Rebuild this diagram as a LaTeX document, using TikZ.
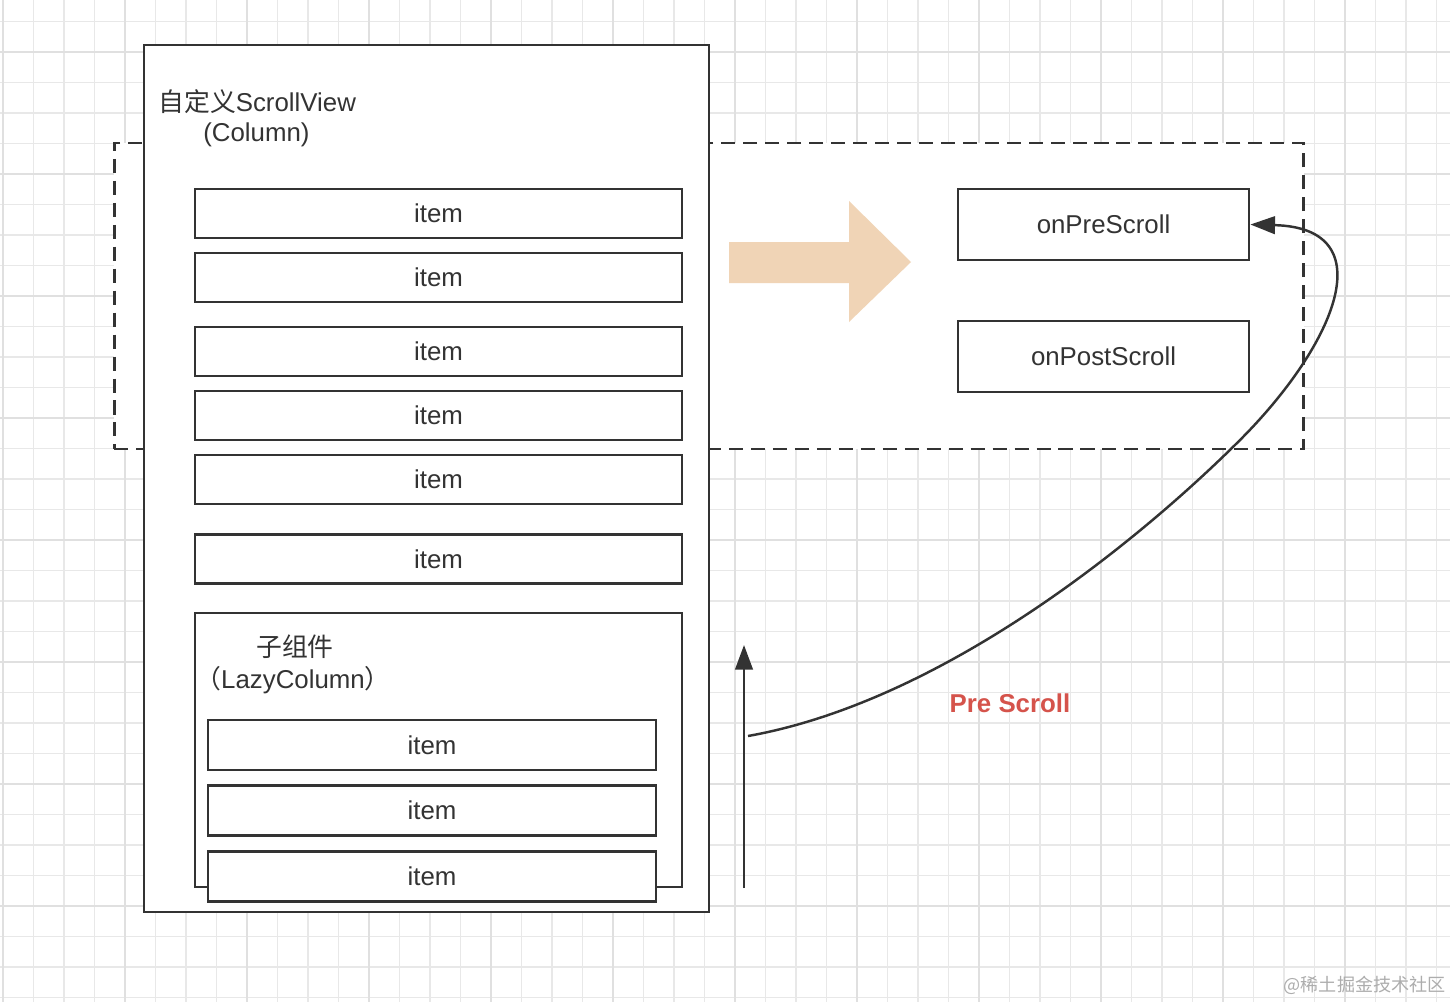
\documentclass[tikz,border=0pt]{standalone}
\usepackage{fontspec}
\setmainfont{Liberation Sans}
\newfontfamily\cjk{Noto Sans CJK SC}
\usepackage{tikz}
\usetikzlibrary{arrows.meta}
\definecolor{ink}{HTML}{333333}
\definecolor{peach}{HTML}{F0D4B6}
\definecolor{prered}{HTML}{D5534B}
\definecolor{gridminor}{HTML}{E8E8E8}
\definecolor{gridmajor}{HTML}{E0E0E0}
\tikzstyle{box} = [rectangle, draw=ink, line width=1.6pt, fill=white, inner sep=0pt, text=ink, font=\fontsize{14.7pt}{17pt}\selectfont]
\tikzstyle{item} = [box, minimum width=9.74cm, minimum height=0.98cm]
\tikzstyle{subitem} = [box, minimum width=8.96cm, minimum height=1.0cm]
\tikzstyle{callback} = [box, minimum width=5.82cm, minimum height=1.42cm]
\tikzstyle{label} = [inner sep=0pt, text=ink, font=\fontsize{14.7pt}{17pt}\selectfont]
\tikzstyle{dashbox} = [rectangle, draw=ink, line width=1.6pt, fill=white, dash pattern=on 8pt off 4.5pt]
\tikzstyle{arrow} = [draw=ink, line width=1.4pt, -{Triangle[length=14pt,width=10pt]}]

\begin{document}
\begin{tikzpicture}[x=0.02cm, y=-0.02cm]
    \useasboundingbox[fill=white] (0,0) rectangle (1450,1002);
    % grid
    \foreach \i in {0,...,47}
        \draw[gridminor, line width=0.6pt] ({3+30.5*\i},0) -- ({3+30.5*\i},1002);
    \foreach \j in {0,...,32}
        \draw[gridminor, line width=0.6pt] (0,{21.5+30.5*\j}) -- (1450,{21.5+30.5*\j});
    \foreach \i in {0,...,11}
        \draw[gridmajor, line width=0.8pt] ({3+122*\i},0) -- ({3+122*\i},1002);
    \foreach \j in {0,...,8}
        \draw[gridmajor, line width=0.8pt] (0,{52+122*\j}) -- (1450,{52+122*\j});

    \node (frame) [dashbox, minimum width=23.8cm, minimum height=6.12cm] at (709,296) {};
    \node (scroll) [box, minimum width=11.3cm, minimum height=17.34cm] at (426.5,478.5) {};

    \node [label, anchor=west] at (158,102) {{\cjk 自定义}ScrollView};
    \node [label, anchor=west] at (203,134.5) {(Column)};

    \node (i1) [item] at (438.5,213.5) {item};
    \node (i2) [item] at (438.5,277.5) {item};
    \node (i3) [item] at (438.5,351.5) {item};
    \node (i4) [item] at (438.5,415.5) {item};
    \node (i5) [item] at (438.5,479.5) {item};
    \node (i6) [item] at (438.5,559) {item};

    \node (lazy) [box, minimum width=9.74cm, minimum height=5.48cm] at (438.5,750) {};
    \node [label] at (295,647) {\cjk 子组件};
    \node [label] at (293,680) {{\cjk （}LazyColumn{\cjk ）}};

    \node (s1) [subitem] at (432,745) {item};
    \node (s2) [subitem] at (432,810.5) {item};
    \node (s3) [subitem] at (432,876.5) {item};

    % big arrow
    \fill[peach] (729,242) -- (849,242) -- (849,201) -- (911,262) -- (849,322) -- (849,283) -- (729,283) -- cycle;

    \node (pre) [callback] at (1103.5,224.5) {onPreScroll};
    \node (post) [callback] at (1103.5,356.5) {onPostScroll};

    \coordinate (up0) at (744,888);
    \coordinate (up1) at (744,645);
    \coordinate (start) at (748,736);
    \draw[arrow] (up0) -- (up1);
    \draw[arrow] (start) .. controls (950,700) and (1150,530) .. (1240,440)
        .. controls (1335,345) and (1385,228) .. (pre.east);

    \node [text=prered, font=\bfseries\fontsize{14.7pt}{17pt}\selectfont] at (1010,703) {Pre Scroll};
    \node [anchor=east, inner sep=0pt, text=black!32, font=\fontsize{10.3pt}{12pt}\selectfont] at (1446,985) {\cjk @稀土掘金技术社区};
\end{tikzpicture}
\end{document}
